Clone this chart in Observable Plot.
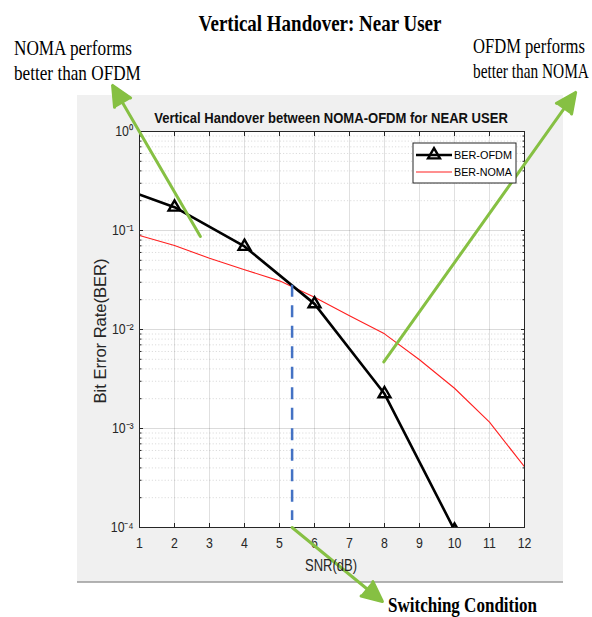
<!DOCTYPE html>
<html><head><meta charset="utf-8">
<script src="https://cdn.jsdelivr.net/npm/d3@7"></script>
<script src="https://cdn.jsdelivr.net/npm/@observablehq/plot@0.6"></script>
<style>html,body{margin:0;padding:0;background:#fff}svg{display:block}</style>
</head><body><div id="chart"></div>
<script>
// ---- data ----
const snrOFDM = [0, 2, 4, 6, 8, 10];
const berOFDM = [0.31, 0.172, 0.069, 0.01815, 0.00224, 0.000094];
const snrNOMA = [1, 2, 3, 4, 5, 6, 7, 8, 9, 10, 11, 12];
const berNOMA = [0.089, 0.0707, 0.0524, 0.0402, 0.031, 0.0212, 0.0138, 0.00904, 0.00495, 0.00255, 0.00116, 0.00041];
const xTicks = [1, 2, 3, 4, 5, 6, 7, 8, 9, 10, 11, 12];
const yTicks = [1, 0.1, 0.01, 0.001, 0.0001];
const yTickLabels = ["10⁰", "10⁻¹", "10⁻²", "10⁻³", "10⁻⁴"];
const yMinorTicks = [0.1, 0.01, 0.001, 0.0001].flatMap(d => [2,3,4,5,6,7,8,9].map(k => k * d));
const switchSNR = [5.36];
const switchTop = [0.028];
const switchBottom = [0.000118];
// annotation arrows (tail -> head) in data units
const arrowTailSNR = [2.74, 7.98, 5.36];
const arrowTailBER = [0.087, 0.0047, 0.0001];
const arrowHeadSNR = [0.23, 13.46, 7.94];
const arrowHeadBER = [2.92, 2.48, 0.0000179];
const seriesNames = ["BER-OFDM", "BER-NOMA"];

const ofdm = snrOFDM.map((x, i) => ({x, y: berOFDM[i]}));
const noma = snrNOMA.map((x, i) => ({x, y: berNOMA[i]}));
const arrows = arrowTailSNR.map((x, i) => ({x1: x, y1: arrowTailBER[i], x2: arrowHeadSNR[i], y2: arrowHeadBER[i]}));
const sw = switchSNR.map((x, i) => ({x, y1: switchTop[i], y2: switchBottom[i]}));

const GREEN = "#86c043";
const AX = "#262626";
const TRI_R = 4.4;

const plot = Plot.plot({
  width: 592, height: 617,
  marginLeft: 139, marginRight: 68, marginTop: 131, marginBottom: 90,
  style: {background: "transparent", fontFamily: "'Liberation Sans', Arial, sans-serif", color: AX},
  x: {type: "linear", domain: [1, 12]},
  y: {type: "log", domain: [0.0001, 1]},
  marks: [
    Plot.frame({fill: "white", stroke: "none"}),
    Plot.gridX({ticks: xTicks, stroke: "#000", strokeOpacity: 0.12}),
    Plot.gridY({ticks: yMinorTicks, stroke: "#000", strokeOpacity: 0.14, strokeDasharray: "1.2,2"}),
    Plot.gridY({ticks: yTicks, stroke: "#000", strokeOpacity: 0.14}),
    Plot.axisX({ticks: xTicks, tickSize: 0, tickPadding: 11, fontSize: 14, label: null, tickFormat: d => String(d)}),
    Plot.axisX({ticks: xTicks, anchor: "bottom", tickSize: -4, tickFormat: () => "", label: null}),
    Plot.axisX({ticks: xTicks, anchor: "top", tickSize: -4, tickFormat: () => "", label: null}),
    Plot.axisY({ticks: yTicks, tickSize: 0, tickPadding: 6, fontSize: 14, label: null, tickFormat: d => yTickLabels[yTicks.indexOf(d)]}),
    Plot.axisY({ticks: yTicks, anchor: "left", tickSize: -4, tickFormat: () => "", label: null}),
    Plot.axisY({ticks: yTicks, anchor: "right", tickSize: -4, tickFormat: () => "", label: null}),
    Plot.axisY({ticks: yMinorTicks, anchor: "left", tickSize: -2.5, tickFormat: () => "", label: null}),
    Plot.axisY({ticks: yMinorTicks, anchor: "right", tickSize: -2.5, tickFormat: () => "", label: null}),
    Plot.line(noma, {x: "x", y: "y", stroke: "#ff2020", strokeWidth: 1.1, clip: true}),
    Plot.line(ofdm, {x: "x", y: "y", stroke: "#000", strokeWidth: 2.6, clip: true}),
    Plot.dot(ofdm, {x: "x", y: "y", symbol: "triangle", r: TRI_R, stroke: "#000", strokeWidth: 2.4, fill: "none", clip: true}),
    Plot.ruleX(sw, {x: "x", y1: "y1", y2: "y2", stroke: "#4472c4", strokeWidth: 2.5, strokeDasharray: "12,8.5"}),
    Plot.frame({stroke: AX, strokeWidth: 1}),
    Plot.arrow(arrows, {x1: "x1", y1: "y1", x2: "x2", y2: "y2", stroke: GREEN, strokeWidth: 3, headLength: 11, headAngle: 50})
  ]
});

const svg = d3.select(plot);
document.getElementById("chart").appendChild(plot);

// compress Plot tick labels horizontally like the reference (about their anchor point)
svg.selectAll("text").each(function () {
  if (!this.textContent) return;
  const t = this.getAttribute("transform") || "";
  this.setAttribute("transform", `${t} scale(0.88,1)`);
});

// filled arrow heads
svg.selectAll('[aria-label="arrow"] path').each(function () {
  const d = this.getAttribute("d");
  const parts = d.split("M");
  const head = parts[parts.length - 1];
  d3.select(this.parentNode).append("path").attr("d", "M" + head + "Z")
    .attr("fill", GREEN).attr("stroke", GREEN).attr("stroke-width", 1.5).attr("stroke-linejoin", "miter");
});

// grey figure panel behind the axes
const bg = svg.insert("g", ":first-child");
bg.append("rect").attr("x", 77).attr("y", 95).attr("width", 486).attr("height", 487).attr("fill", "#f0f0f0");
bg.append("line").attr("x1", 77).attr("x2", 563).attr("y1", 582).attr("y2", 582).attr("stroke", "#9a9a9a").attr("stroke-width", 1.5);

function addText(t) {
  const el = svg.append("text")
    .attr("x", 0).attr("y", 0)
    .attr("font-family", t.family || "'Liberation Sans', Arial, sans-serif")
    .attr("font-size", t.size).attr("font-weight", t.weight || "normal")
    .attr("fill", t.fill || "#000")
    .attr("text-anchor", t.anchor || "start")
    .text(t.text);
  const natural = el.node().getComputedTextLength();
  const k = t.length ? t.length / natural : 1;
  el.attr("transform", `translate(${t.x},${t.y})${t.rotate ? ` rotate(${t.rotate})` : ""} scale(${k},1)`);
  return el;
}
const SERIF = "'Liberation Serif', 'Times New Roman', serif";
const SANS = "'Liberation Sans', Arial, sans-serif";
addText({x: 320, y: 31, text: "Vertical Handover: Near User", size: 23, weight: "bold", family: SERIF, anchor: "middle", length: 243});
addText({x: 14, y: 55, text: "NOMA performs", size: 21, family: SERIF, length: 118});
addText({x: 14, y: 80, text: "better than OFDM", size: 21, family: SERIF, length: 127});
addText({x: 473, y: 53, text: "OFDM performs", size: 21, family: SERIF, length: 112});
addText({x: 473, y: 78, text: "better than NOMA", size: 21, family: SERIF, length: 116});
addText({x: 388, y: 612, text: "Switching Condition", size: 21, weight: "bold", family: SERIF, length: 149});
addText({x: 331, y: 123, text: "Vertical Handover between NOMA-OFDM for NEAR USER", size: 15, weight: "bold", anchor: "middle", length: 354, fill: "#111"});
addText({x: 331, y: 571, text: "SNR(dB)", size: 16, anchor: "middle", length: 52, fill: AX});
addText({x: 106, y: 331, text: "Bit Error Rate(BER)", size: 16.5, anchor: "middle", rotate: -90, fill: AX});

// legend
const lg = svg.append("g").attr("text-anchor", "start");
lg.append("rect").attr("x", 413).attr("y", 143).attr("width", 103).attr("height", 40).attr("fill", "#fff").attr("stroke", AX).attr("stroke-width", 1);
lg.append("line").attr("x1", 416).attr("x2", 452).attr("y1", 155).attr("y2", 155).attr("stroke", "#000").attr("stroke-width", 2.6);
lg.append("path").attr("d", d3.symbol(d3.symbolTriangle, Math.PI * TRI_R * TRI_R)()).attr("transform", "translate(434,155)")
  .attr("fill", "none").attr("stroke", "#000").attr("stroke-width", 2.4);
lg.append("line").attr("x1", 416).attr("x2", 452).attr("y1", 172).attr("y2", 172).attr("stroke", "#ff2020").attr("stroke-width", 1.1);
seriesNames.forEach((s, i) => {
  const el = lg.append("text").attr("x", 0).attr("y", 0).attr("text-anchor", "start")
    .attr("font-family", SANS).attr("font-size", 11.5).attr("fill", "#000").text(s);
  const k = 58 / el.node().getComputedTextLength();
  el.attr("transform", `translate(454,${159 + i * 17}) scale(${k},1)`);
});
</script>
</body></html>
